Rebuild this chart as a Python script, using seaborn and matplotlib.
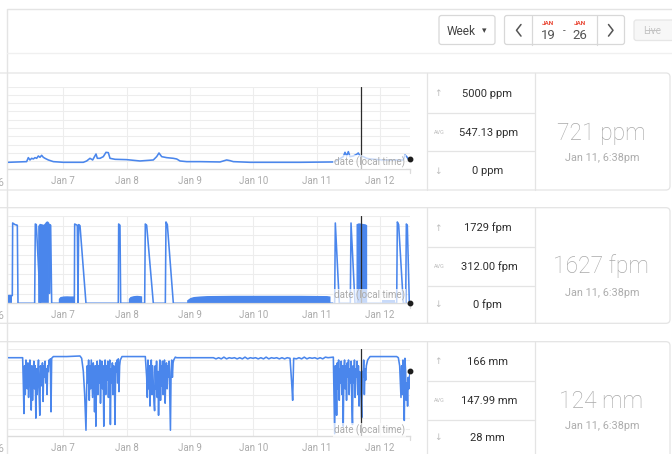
import numpy as np
import pandas as pd
import matplotlib
matplotlib.use("Agg")
import matplotlib.pyplot as plt
from matplotlib.patches import FancyBboxPatch
import seaborn as sns

# ---------------- data ----------------
day_ticks = ["2020-01-07", "2020-01-08", "2020-01-09", "2020-01-10", "2020-01-11", "2020-01-12"]
day_labels = ["Jan 7", "Jan 8", "Jan 9", "Jan 10", "Jan 11", "Jan 12"]
view_start = "2020-01-06 03:02"
view_end = "2020-01-12 11:22"
cursor_time = "2020-01-11 16:48"

# CO2 (ppm)
co2_time = ["01-06 03:10", "01-06 10:06", "01-06 10:44", "01-06 11:22", "01-06 12:00", "01-06 12:38",
            "01-06 13:16", "01-06 13:54", "01-06 14:32", "01-06 15:09", "01-06 15:47", "01-06 16:25",
            "01-06 17:03", "01-06 18:19", "01-06 20:13", "01-07 00:00", "01-07 07:35", "01-07 08:51",
            "01-07 10:06", "01-07 11:07", "01-07 12:23", "01-07 12:53", "01-07 13:54", "01-07 15:09",
            "01-07 16:10", "01-07 17:03", "01-07 17:41", "01-07 19:35", "01-08 00:00", "01-08 05:03",
            "01-08 10:06", "01-08 11:22", "01-08 12:15", "01-08 13:16", "01-08 15:09", "01-08 17:41",
            "01-08 18:57", "01-08 20:13", "01-08 22:44", "01-09 03:47", "01-09 11:22", "01-09 13:54",
            "01-09 15:09", "01-09 16:25", "01-09 22:44", "01-10 17:41", "01-11 06:19", "01-11 06:57",
            "01-11 10:06", "01-11 10:44", "01-11 11:22", "01-11 12:00", "01-11 12:38", "01-11 13:54",
            "01-11 15:09", "01-11 15:47", "01-11 16:25", "01-11 17:03", "01-11 17:41", "01-11 18:57",
            "01-11 20:13", "01-12 01:16", "01-12 08:50", "01-12 09:28", "01-12 10:06", "01-12 10:44",
            "01-12 11:22"]
co2_ppm = [423, 464, 706, 565, 665, 625,
           706, 665, 806, 726, 847, 726,
           665, 565, 464, 423, 423, 504,
           665, 565, 927, 665, 665, 766,
           1028, 1008, 665, 605, 585, 504,
           565, 766, 988, 766, 706, 665,
           625, 504, 464, 464, 444, 565,
           524, 464, 423, 423, 444, 464,
           766, 1028, 806, 1069, 766, 806,
           907, 988, 806, 786, 766, 665,
           625, 560, 565, 867, 766, 625,
           650]

# Air speed (fpm): sparse readings
fpm_time = ["01-06 03:10", "01-06 04:40", "01-06 04:48", "01-06 05:41", "01-06 06:19", "01-06 06:34",
            "01-06 06:49", "01-06 13:08", "01-06 13:23", "01-06 13:46", "01-06 15:17", "01-06 18:27",
            "01-06 18:34", "01-06 18:49", "01-06 18:57", "01-06 19:12", "01-06 19:35", "01-07 04:10",
            "01-07 04:18", "01-07 05:18", "01-07 05:33", "01-07 05:49", "01-07 06:19", "01-07 08:35",
            "01-07 20:50", "01-07 20:58", "01-07 21:28", "01-07 21:44", "01-08 06:49", "01-08 07:04",
            "01-08 07:35", "01-08 10:06", "01-08 14:39", "01-08 14:54", "01-08 15:25", "01-08 17:41",
            "01-11 06:49", "01-11 07:04", "01-11 08:35", "01-11 12:45", "01-11 13:01", "01-11 14:31",
            "01-11 18:57", "01-12 06:19", "01-12 06:34", "01-12 07:04", "01-12 08:50", "01-12 09:44",
            "01-12 09:59", "01-12 10:21", "01-12 11:07", "01-12 11:22"]
fpm_value = [159, 159, 1656, 1622, 1615, 1608,
             0, 0, 1635, 1622, 0, 1650,
             207, 207, 1620, 1608, 0, 0,
             1635, 1608, 0, 1622, 1600, 0,
             0, 1635, 1608, 0, 0, 1635,
             1608, 0, 0, 1677, 1622, 0,
             0, 1656, 0, 0, 1656, 0,
             0, 0, 1677, 1622, 0, 0,
             1635, 1608, 0, 0]
# Air speed (fpm): dense oscillating stretches, read as their visible upper edge
fpm_fill_group = ["G", "G",
                  "A", "A", "A", "A", "A", "A", "A", "A",
                  "B", "B", "B", "B", "B", "B",
                  "C", "C", "C", "C", "C", "C",
                  "D", "D", "D", "D", "D", "D", "D", "D", "D", "D",
                  "E", "E", "E", "E", "E",
                  "F", "F"]
fpm_fill_time = ["01-06 03:02", "01-06 04:40",
                 "01-06 14:16", "01-06 14:54", "01-06 15:47", "01-06 16:25", "01-06 16:56", "01-06 17:18", "01-06 17:56", "01-06 18:19",
                 "01-06 22:06", "01-06 22:44", "01-07 00:00", "01-07 01:16", "01-07 02:32", "01-07 04:03",
                 "01-08 00:38", "01-08 01:16", "01-08 02:32", "01-08 03:47", "01-08 05:03", "01-08 05:41",
                 "01-08 22:44", "01-09 00:00", "01-09 01:16", "01-09 03:47", "01-09 06:19", "01-09 16:25", "01-10 05:03", "01-10 17:41", "01-11 03:47", "01-11 05:03",
                 "01-11 14:54", "01-11 15:47", "01-11 17:03", "01-11 18:19", "01-11 18:57",
                 "01-12 00:38", "01-12 05:41"]
fpm_fill_top = [159, 159,
                1600, 1650, 1640, 1630, 1660, 1690, 1700, 1680,
                100, 140, 152, 155, 152, 152,
                100, 140, 159, 165, 159, 152,
                70, 120, 140, 152, 160, 165, 165, 165, 160, 150,
                1640, 1660, 1650, 1640, 1620,
                69, 69]

# Distance (mm): sparse readings
mm_time = ["01-06 03:10", "01-06 08:20", "01-06 20:13", "01-07 01:16", "01-07 06:19", "01-07 06:57",
           "01-07 22:14", "01-08 00:00", "01-08 06:19", "01-08 07:04", "01-08 18:26", "01-08 18:57",
           "01-08 22:44", "01-09 03:47", "01-09 08:51", "01-10 13:54", "01-10 14:32", "01-10 14:54",
           "01-10 15:17", "01-11 06:19", "01-11 20:13", "01-12 01:16", "01-12 06:19", "01-12 06:57",
           "01-12 11:22"]
mm_value = [164, 164, 166, 166, 167, 163,
            166, 166, 166, 166, 165, 164,
            164, 164, 164, 163, 120, 90,
            163, 165, 166, 166, 166, 164,
            141]
# Distance (mm): regularly sampled stretches
mm_burst_start = ["01-06 08:35", "01-07 07:35", "01-08 07:35", "01-09 09:51", "01-10 16:18", "01-11 06:34", "01-12 07:27"]
mm_burst_step = ["15min", "15min", "15min", "60min", "60min", "15min", "15min"]
mm_burst_1 = [164, 120, 67, 150, 100, 160, 130, 110, 155, 95, 140, 160, 120, 73, 150, 90, 130, 158, 110, 150,
              59, 145, 100, 135, 160, 100, 64, 150, 140, 115, 155, 88, 150, 130, 158, 120, 145, 100, 150, 140,
              160, 155, 162, 70, 163]
mm_burst_2 = [140, 120, 100, 70, 38, 110, 150, 120, 160, 90, 150, 110, 160, 130, 95, 155, 140, 70, 150, 45,
              130, 158, 100, 150, 120, 160, 85, 140, 158, 110, 150, 45, 130, 160, 100, 150, 125, 158, 95, 140,
              160, 48, 145, 120, 155, 100, 150, 130, 48, 155, 140, 160, 120, 162, 105, 150, 160]
mm_burst_3 = [130, 95, 160, 110, 150, 80, 140, 160, 100, 150, 120, 90, 72, 150, 110, 158, 95, 140, 64, 130,
              160, 90, 150, 115, 158, 100, 145, 160, 85, 140, 155, 110, 150, 130, 158, 95, 38, 140, 160, 130,
              155, 160]
mm_burst_4 = [162, 164, 162, 165, 162, 164, 163, 164, 162, 164, 162, 165, 162, 164, 163, 164, 162, 164, 162, 165,
              162, 164, 163, 164, 162, 164, 162, 164]
mm_burst_5 = [162, 164, 162, 165, 162, 164, 163, 164, 162, 164, 162, 165, 164]
mm_burst_6 = [100, 32, 150, 130, 64, 155, 110, 160, 90, 145, 120, 158, 100, 150, 45, 140, 160, 110, 150, 90,
              155, 130, 160, 100, 145, 120, 158, 85, 48, 150, 120, 160, 95, 145, 130, 158, 100, 150, 80, 140,
              120, 95, 60, 140, 130, 160, 100, 145, 125, 150, 155, 160]
mm_burst_7 = [150, 120, 95, 150, 100, 160, 130, 55, 163, 140, 90, 120, 80, 130, 110]

# stats panels
stat_max = ["5000 ppm", "1729 fpm", "166 mm"]
stat_avg = ["547.13 ppm", "312.00 fpm", "147.99 mm"]
stat_min = ["0 ppm", "0 fpm", "28 mm"]
stat_now = ["721 ppm", "1627 fpm", "124 mm"]
stat_when = ["Jan 11, 6:38pm", "Jan 11, 6:38pm", "Jan 11, 6:38pm"]

# ---------------- build frames ----------------
def ts(lst):
    return pd.to_datetime(["2020-" + s for s in lst])

co2_df = pd.DataFrame({"time": ts(co2_time), "value": co2_ppm})
fpm_df = pd.DataFrame({"time": ts(fpm_time), "value": fpm_value})
fpm_fill = pd.DataFrame({"group": fpm_fill_group, "time": ts(fpm_fill_time), "top": fpm_fill_top})

parts = [pd.DataFrame({"time": ts(mm_time), "value": mm_value})]
for start, step, vals in zip(mm_burst_start, mm_burst_step,
                             [mm_burst_1, mm_burst_2, mm_burst_3, mm_burst_4, mm_burst_5, mm_burst_6, mm_burst_7]):
    parts.append(pd.DataFrame({"time": pd.date_range("2020-" + start, periods=len(vals), freq=step), "value": vals}))
mm_df = pd.concat(parts).sort_values("time").reset_index(drop=True)

# ---------------- style ----------------
sns.set_theme(style="white")
plt.rcParams["font.family"] = ["Roboto", "DejaVu Sans"]

BLUE = "#4a86ec"
GRID = "#ededed"
AXIS = "#dcdcdc"
BORDER = "#e4e4e4"
TXT = "#2e2e2e"

W, H = 672, 454
fig = plt.figure(figsize=(W / 100, H / 100), dpi=100)
fig.patch.set_facecolor("white")

bg = fig.add_axes([0, 0, 1, 1])
bg.set_xlim(0, W)
bg.set_ylim(H, 0)
bg.axis("off")
bg.set_zorder(0)

def rect(x0, y0, x1, y1):
    return [x0 / W, 1 - y1 / H, (x1 - x0) / W, (y1 - y0) / H]

def text(x, yc, s, size, color=TXT, ha="center", weight="normal", **kw):
    # yc = vertical centre of cap height (px)
    return bg.text(x, yc + 0.494 * size, s, fontsize=size, color=color, ha=ha, va="baseline",
                   fontweight=weight, **kw)

# outer container & header
bg.plot([7, 7], [9, H + 5], color=BORDER, lw=1.0, solid_capstyle="butt")
bg.plot([7, W + 5], [9, 9], color=BORDER, lw=1.0)
bg.plot([7, W + 5], [53, 53], color="#f0f0f0", lw=1.0)

def box(x, y, w, h, ec="#d8d8d8", fc="white", r=2.5, lw=0.9, z=1):
    p = FancyBboxPatch((x, y), w, h, boxstyle=f"round,pad=0,rounding_size={r}",
                       ec=ec, fc=fc, lw=lw, zorder=z)
    bg.add_patch(p)

box(439, 15.5, 56, 29)
text(461, 30.3, "Week", 8.6, color="#444444")
bg.text(484, 30.6, "▾", fontsize=6.5, color="#444444", ha="center", va="center", family="DejaVu Sans")

box(504.5, 15.5, 120, 29)
bg.plot([532, 532], [15.5, 44.5], color="#d8d8d8", lw=0.9)
bg.plot([597, 597], [15.5, 44.5], color="#d8d8d8", lw=0.9)
bg.plot([521, 516.5, 521], [24.5, 30.3, 36.1], color="#555555", lw=1.1)
bg.plot([608.5, 613, 608.5], [24.5, 30.3, 36.1], color="#555555", lw=1.1)
for xc, d in [(548, "19"), (580, "26")]:
    text(xc, 22.6, "JAN", 4.6, color="#e8412e", weight="bold")
    text(xc, 34.3, d, 9.5, color="#555555")
text(564, 31, "-", 7, color="#555555")

box(634, 20, 40, 20.5, ec="#e6e6e6", fc="#f7f7f7")
text(652, 30.3, "Live", 7.2, color="#c4c4c4")
bg.plot([645, 659], [30.3, 30.3], color="#c4c4c4", lw=0.7)

# cards
card_tops = [73, 207.7, 341.7]
card_h = [117, 115.6, 130]
for top, hh in zip(card_tops, card_h):
    box(-20, top, 690, hh, ec=BORDER, fc="white", r=4, lw=0.9)
    bg.plot([427, 427], [top, top + min(hh, 117)], color=BORDER, lw=0.9)
    bg.plot([534.5, 534.5], [top, top + min(hh, 117)], color=BORDER, lw=0.9)
    r1 = top + 39.5
    r2 = top + 78
    bg.plot([427, 534.5], [r1, r1], color=BORDER, lw=0.9)
    bg.plot([427, 534.5], [r2, r2], color=BORDER, lw=0.9)

row_y = [(93, 131.7, 170.5), (227.3, 265.7, 303.6), (361, 400, 437)]
big_y = [(132.3, 157), (265.2, 291.7), (399.4, 425)]
for i in range(3):
    y1, y2, y3 = row_y[i]
    text(438, y1, "↑", 6.5, color="#bdbdbd", family="DejaVu Sans")
    text(487.5, y1, stat_max[i], 8.0, color=TXT)
    text(439, y2, "AVG", 4.0, color="#bdbdbd")
    text(489, y2, stat_avg[i], 8.0, color=TXT)
    text(438, y3, "↓", 6.5, color="#bdbdbd", family="DejaVu Sans")
    text(487.5, y3, stat_min[i], 8.0, color=TXT)
    text(601, big_y[i][0], stat_now[i], 16.5, color="#a9a9a9", weight="light")
    text(602, big_y[i][1], stat_when[i], 7.8, color="#adadad")

# ---------------- charts ----------------
chart_rects = [rect(8, 86.7, 410, 169.3), rect(8, 216, 410, 303.3), rect(8, 348.5, 410, 436)]
ylims = [(0, 5000), (0, 1800), (28, 180)]
yticks = [np.arange(0, 5001, 500), np.arange(0, 1801, 200), np.arange(40, 181, 20)]
frames = [co2_df, fpm_df, mm_df]
label_y = [0.085, 0.087, 0.069]

tick_times = pd.to_datetime(day_ticks)
x_lo = pd.Timestamp(view_start)
x_hi = pd.Timestamp(view_end)
for i in range(3):
    ax = fig.add_axes(chart_rects[i])
    ax.set_zorder(2)
    ax.set_facecolor("none")
    if i == 1:
        for g, sub in fpm_fill.groupby("group", sort=False):
            ax.fill_between(sub["time"], 0, sub["top"], color=BLUE, lw=0, zorder=2)
    df = frames[i]
    sns.lineplot(data=df, x="time", y="value", ax=ax, color=BLUE, lw=1.15,
                 estimator=None, zorder=3)
    ax.set_xlim(x_lo, x_hi)
    ax.set_ylim(*ylims[i])
    ax.set_yticks(yticks[i])
    ax.set_yticklabels([])
    ax.set_xticks(tick_times)
    ax.set_xticklabels(day_labels)
    ax.tick_params(axis="x", length=0, pad=5.0, labelsize=7, labelcolor="#ababab")
    ax.tick_params(axis="y", length=0)
    ax.grid(True, color=GRID, lw=0.8)
    ax.set_axisbelow(True)
    ax.set_xlabel("")
    ax.set_ylabel("")
    for s in ["top", "right", "left"]:
        ax.spines[s].set_visible(False)
    ax.spines["bottom"].set_color(AXIS)
    ax.spines["bottom"].set_linewidth(1.0)
    # cursor
    ax.axvline(pd.Timestamp(cursor_time), color="#2b2b2b", lw=0.9, zorder=4)
    # last point
    last = df.iloc[-1]
    ax.plot([last["time"]], [last["value"]], "o", color="#1e1e1e", ms=3.2, zorder=6, clip_on=False)
    # end tick
    ax.plot([1, 1], [0, -0.05], transform=ax.transAxes, color=AXIS, lw=0.9, clip_on=False)
    ax.text(0.988, label_y[i], "date (local time)", transform=ax.transAxes, ha="right", va="center",
            fontsize=7, color="#ababab", zorder=5,
            bbox=dict(facecolor="white", alpha=0.7, edgecolor="none", pad=0.8))

# partial "Jan 6" labels at the far left edge (cut off, as in the reference)
for yc in [182.3, 315.5, 448.5]:
    text(3.5, yc, "Jan 6", 7, color="#ababab", ha="right")

fig.savefig("out.png", dpi=100, facecolor="white")
